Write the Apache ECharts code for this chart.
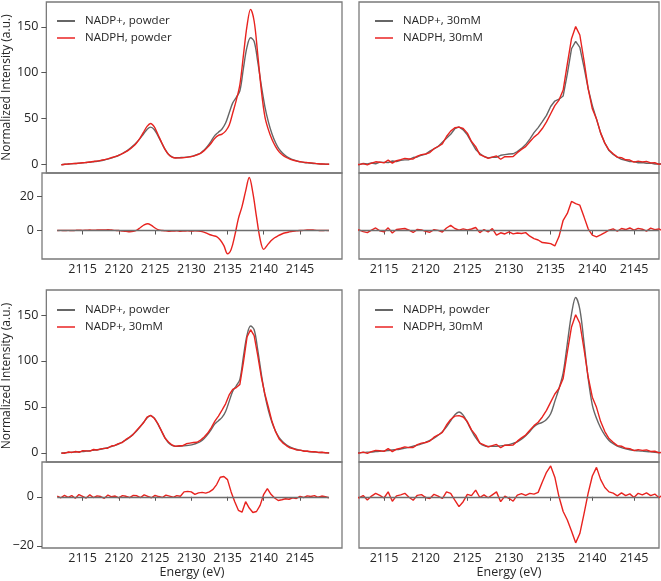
<!DOCTYPE html>
<html><head><meta charset="utf-8">
<script src="https://cdn.jsdelivr.net/npm/echarts@6/dist/echarts.min.js"></script>
<style>html,body{margin:0;padding:0;background:#fff}#c{width:661px;height:581px}</style>
</head><body><div id="c"></div>
<script>
// Energy grid (eV)
const ENERGY = [2111.5,2112,2112.5,2113,2113.5,2114,2114.5,2115,2115.5,2116,
2116.5,2117,2117.5,2118,2118.5,2119,2119.5,2120,2120.5,2121,
2121.5,2122,2122.5,2123,2123.5,2124,2124.5,2125,2125.5,2126,
2126.5,2127,2127.5,2128,2128.5,2129,2129.5,2130,2130.5,2131,
2131.5,2132,2132.5,2133,2133.5,2134,2134.5,2135,2135.5,2136,
2136.5,2137,2137.5,2138,2138.5,2139,2139.5,2140,2140.5,2141,
2141.5,2142,2142.5,2143,2143.5,2144,2144.5,2145,2145.5,2146,
2146.5,2147,2147.5,2148,2148.5,2149];

const NADP_POWDER = [-0.5,0,0.3,0.6,0.9,1.2,1.5,1.9,2.3,2.8,
3.3,3.9,4.7,5.6,6.7,8.0,9.6,11.5,13.8,16.5,
19.8,23.5,28,33,38,40.5,38,31.5,24,16.5,
11,8.2,7.2,7.2,7.5,7.8,8.3,9.2,10.5,12.3,
15.5,20,25.5,31.5,35,38.5,45,56,67,73,
80,105,128,138,134,112,86,63,46,33,
23.5,16.5,12,8.7,6.4,4.8,3.6,2.7,2.0,1.5,
1.1,0.8,0.5,0.3,0.1,0];

const NADPH_POWDER = [-0.5,0.1,0.3,0.7,0.9,1.3,1.7,2.0,2.5,3.1,
3.5,4.2,5.1,5.9,7.2,8.3,9.7,11.5,13.5,16.0,
19.1,23.0,28.3,34.8,41.3,44.5,41,33,24.4,16.5,
10.8,7.8,6.9,7.0,7.1,7.5,8.1,8.9,10.3,12.0,
14.9,18.7,23.2,28.5,31.5,33,36.2,42.5,56,70,
87,119,151,169,156,120,81,52,37.5,27,
19.3,13.5,10,7.4,5.6,4.4,3.4,2.7,2.1,1.8,
1.5,1.0,0.6,0.3,0.2,0];

const NADP_30MM = [-0.2,-0.4,0.9,0.4,1.4,0.6,2.4,2.1,1.8,3.6,3.0,4.3,4.8,5.0,7.4,8.0,9.9,11.1,14.3,16.7,19.5,24.1,
28.4,32.7,38.8,40.7,37.6,32.1,24.1,16.2,11.7,8.5,7.0,
7.7,7.7,9.8,10.5,11.2,11.5,13.9,17.3,21.5,27.5,34.5,40,
46.5,53.3,63,69,71,74.5,98.7,126,134,127.6,106,82.5,64,
49.3,34,23,15,10.8,7.9,5.4,4.4,2.9,2.9,1.7,1.9,1.2,1.3,0.3,0.6,0.1,-0.4];

const NADPH_30MM = [-0.3,-0.3,0.8,-0.6,1.2,2.7,2.3,1.5,4.5,1.3,3.9,5.0,6.5,5.7,5.8,8.9,10.6,11.2,12.8,17.0,19.4,22.3,
30.3,36.2,39.9,40.5,39,34,24.9,19.2,10.5,8.6,6.5,
7.8,9.1,5.5,8.4,8.3,8.5,12.7,16.2,19.3,24.6,29.6,33.3,
39,46.2,55.1,64,70,81,109.5,137,150.2,141,113,82.5,60.5,
49.5,34,23.1,15.5,11.5,7.8,7.2,4.9,4.6,2.4,3.5,2.6,3.1,1.5,1.7,-0.1,1.1,0.2];

// Difference spectra
const DIFF_POWDER = [0,0.1,0,0.1,0,0.1,0.2,0.1,0.2,0.3,
0.2,0.3,0.4,0.3,0.5,0.3,0.1,0,-0.3,-0.5,
-0.7,-0.5,0.3,1.8,3.3,4.0,3.0,1.5,0.4,0,
-0.2,-0.4,-0.3,-0.2,-0.4,-0.3,-0.2,-0.3,-0.2,-0.3,
-0.6,-1.3,-2.3,-3.0,-3.5,-5.5,-8.8,-13.5,-11,-3,
7,14,23,31,22,8,-5,-11,-8.5,-6,
-4.2,-3,-2,-1.3,-0.8,-0.4,-0.2,0,0.1,0.3,
0.4,0.2,0.1,0,0.1,0];

const DIFF_30MM = [-0.1,0.4,-0.6,-1.2,0.3,1.5,-0.2,-0.8,1.6,-1.4,0.6,0.9,1.2,0.2,-1.1,0.7,0.4,-0.5,-1.0,0.5,0.1,-0.9,
1.5,3.0,1.2,0.3,1.0,0.4,0.9,1.8,-1.2,0.6,-0.8,
1.2,-2.7,-1.3,-2.0,-0.8,-1.9,-1.4,-1.7,-1.2,-3.3,-4.7,-5.5,
-7,-7.3,-7.6,-9,-3.5,6,10,17,15.7,14.8,8,1,-2.7,
-3.7,-2.5,-1.2,0.3,1.0,-0.4,1.2,0.6,1.5,0.2,1.3,0.8,-0.3,1.4,0.5,1.0,-0.4,0.6];

const DIFF_NADP = [0.3,-0.4,0.6,-0.2,0.5,-0.6,0.9,0.2,-0.5,0.8,-0.3,0.4,0.1,-0.6,0.7,0,0.3,-0.4,0.5,0.2,-0.3,0.6,
0.4,-0.3,0.8,0.2,-0.4,0.6,0.1,-0.3,0.7,0.3,-0.2,
0.5,0.2,2.0,2.2,2.0,1.0,1.6,1.8,1.5,2.0,3.0,5.0,
8,8.3,7,2,-2,-5.5,-6.3,-2,-4.6,-6.4,-6,-3.5,1,
3.3,1.0,-0.5,-1.5,-1.2,-0.8,-1.0,-0.4,-0.7,0.2,-0.3,0.4,0.1,0.5,-0.2,0.3,0,-0.4];

const DIFF_NADPH = [0.2,-0.4,0.5,-1.3,0.3,1.4,0.6,-0.5,2.0,-1.8,0.4,0.8,1.4,-0.2,-1.4,0.6,0.9,-0.3,-0.7,1.0,0.3,-0.7,
2.0,1.4,-1.4,-4,-2,1,0.5,2.7,-0.3,0.8,-0.4,
0.8,2.0,-2.0,0.3,-0.6,-1.8,0.7,1.3,0.6,1.4,1.1,1.8,
6,10,12.6,8,0,-6,-9.5,-14,-18.8,-15,-7,1.5,8.5,
12,7,3.8,2,1.5,0.4,1.6,0.5,1.2,-0.3,1.4,0.8,1.6,0.5,1.1,-0.4,0.9,0.2];

const X_TICKS = [2115,2120,2125,2130,2135,2140,2145];
const MAIN_TICKS = [0,50,100,150];
const DIFF_TICKS_TOP = [0,20];
const DIFF_TICKS_BOTTOM = [-20,0];

const FONT = 'Open Sans';
const GRAY = '#666666';
const RED = '#e8231f';
const TXT = '#262626';

const pairs = arr => ENERGY.map((x, i) => [x, arr[i]]);
const fmt = v => String(v).replace('-', '\u2212');

const chart = echarts.init(document.getElementById('c'), null, {renderer: 'canvas'});

function grid(left, top, height) {
  return {left, top, width: 300, height, show: true, borderColor: '#7a7a7a', borderWidth: 1.3, backgroundColor: 'transparent'};
}
const grids = [
  grid(42, 2, 171), grid(42, 173, 86),
  grid(359, 2, 171), grid(359, 173, 86),
  grid(42, 290, 172), grid(42, 462, 86),
  grid(359, 290, 172), grid(359, 462, 86)
];

function xAx(g, min, max, labels, name) {
  return {
    type: 'value', gridIndex: g, min, max,
    axisLine: {show: false}, splitLine: {show: false},
    axisTick: {show: labels, customValues: X_TICKS, length: 4, lineStyle: {color: '#555', width: 1}},
    axisLabel: {show: labels, customValues: X_TICKS, margin: 4, fontSize: 12.5, color: TXT, fontFamily: FONT, formatter: fmt},
    name: name || '', nameLocation: 'middle', nameGap: 17,
    nameTextStyle: {fontSize: 12.5, color: TXT, fontFamily: FONT}
  };
}
function yAx(g, min, max, ticks, labels, name) {
  return {
    type: 'value', gridIndex: g, min, max,
    axisLine: {show: false}, splitLine: {show: false},
    axisTick: {show: labels, customValues: ticks, length: 5, lineStyle: {color: '#555', width: 1}},
    axisLabel: {show: labels, customValues: ticks, margin: 8, fontSize: 12.5, color: TXT, fontFamily: FONT, formatter: fmt},
    name: name || '', nameLocation: 'middle', nameGap: 28,
    nameTextStyle: {fontSize: 12, color: TXT, fontFamily: FONT}
  };
}

const L = [2109.4, 2150.8], R = [2112, 2148];
const MAINY_T = [-9.5, 177], DIFFY_T = [-16.6, 33.6];
const MAINY_B = [-10, 177.2], DIFFY_B = [-20.9, 14.2];

const xAxes = [
  xAx(0, L[0], L[1], false), xAx(1, L[0], L[1], true),
  xAx(2, R[0], R[1], false), xAx(3, R[0], R[1], true),
  xAx(4, L[0], L[1], false), xAx(5, L[0], L[1], true, 'Energy (eV)'),
  xAx(6, R[0], R[1], false), xAx(7, R[0], R[1], true, 'Energy (eV)')
];
const yAxes = [
  yAx(0, MAINY_T[0], MAINY_T[1], MAIN_TICKS, true, 'Normalized Intensity (a.u.)'),
  yAx(1, DIFFY_T[0], DIFFY_T[1], DIFF_TICKS_TOP, true),
  yAx(2, MAINY_T[0], MAINY_T[1], MAIN_TICKS, false),
  yAx(3, DIFFY_T[0], DIFFY_T[1], DIFF_TICKS_TOP, false),
  yAx(4, MAINY_B[0], MAINY_B[1], MAIN_TICKS, true, 'Normalized Intensity (a.u.)'),
  yAx(5, DIFFY_B[0], DIFFY_B[1], DIFF_TICKS_BOTTOM, true),
  yAx(6, MAINY_B[0], MAINY_B[1], MAIN_TICKS, false),
  yAx(7, DIFFY_B[0], DIFFY_B[1], DIFF_TICKS_BOTTOM, false)
];

function line(name, arr, idx, color, smooth) {
  return {
    type: 'line', name, data: pairs(arr), xAxisIndex: idx, yAxisIndex: idx,
    showSymbol: false, symbol: 'none', smooth: smooth ? 0.35 : false,
    lineStyle: {color, width: 1.4}, itemStyle: {color}, z: color === RED ? 3 : 2,
    animation: false
  };
}
function zeroLine(idx, full) {
  const data = full ? [{yAxis: 0}] : [[{coord: [ENERGY[0], 0]}, {coord: [ENERGY[ENERGY.length - 1], 0]}]];
  return {
    type: 'line', data: [], xAxisIndex: idx, yAxisIndex: idx, z: 1, animation: false,
    markLine: {silent: true, symbol: 'none', label: {show: false}, animation: false,
      lineStyle: {color: '#6e6e6e', type: 'solid', width: 1.3}, data}
  };
}

const series = [
  line('NADP+, powder', NADP_POWDER, 0, GRAY, true),
  line('NADPH, powder', NADPH_POWDER, 0, RED, true),
  zeroLine(1, false),
  line('diff powder', DIFF_POWDER, 1, RED, true),
  line('NADP+, 30mM', NADP_30MM, 2, GRAY, false),
  line('NADPH, 30mM', NADPH_30MM, 2, RED, false),
  zeroLine(3, true),
  line('diff 30mM', DIFF_30MM, 3, RED, false),
  line('NADP+, powder', NADP_POWDER, 4, GRAY, true),
  line('NADP+, 30mM', NADP_30MM, 4, RED, false),
  zeroLine(5, false),
  line('diff NADP+', DIFF_NADP, 5, RED, false),
  line('NADPH, powder', NADPH_POWDER, 6, GRAY, true),
  line('NADPH, 30mM', NADPH_30MM, 6, RED, false),
  zeroLine(7, true),
  line('diff NADPH', DIFF_NADPH, 7, RED, false)
];

function legend(left, top, names, colors) {
  return {
    left, top, orient: 'vertical', icon: 'rect', itemWidth: 18, itemHeight: 2, itemGap: 3,
    selectedMode: false,
    textStyle: {fontSize: 11.5, color: TXT, fontFamily: FONT, lineHeight: 14, padding: [0, 0, 0, 5]},
    data: names.map((n, i) => ({name: n, itemStyle: {color: colors[i]}}))
  };
}

chart.setOption({
  backgroundColor: '#fff',
  animation: false,
  grid: grids,
  xAxis: xAxes,
  yAxis: yAxes,
  legend: [
    legend(52, 9, ['NADP+, powder', 'NADPH, powder'], [GRAY, '#ef5a5a']),
    legend(370, 9, ['NADP+, 30mM', 'NADPH, 30mM'], [GRAY, '#ef5a5a']),
    legend(52, 298, ['NADP+, powder', 'NADP+, 30mM'], [GRAY, '#ef5a5a']),
    legend(370, 298, ['NADPH, powder', 'NADPH, 30mM'], [GRAY, '#ef5a5a'])
  ],
  series
});
</script></body></html>
